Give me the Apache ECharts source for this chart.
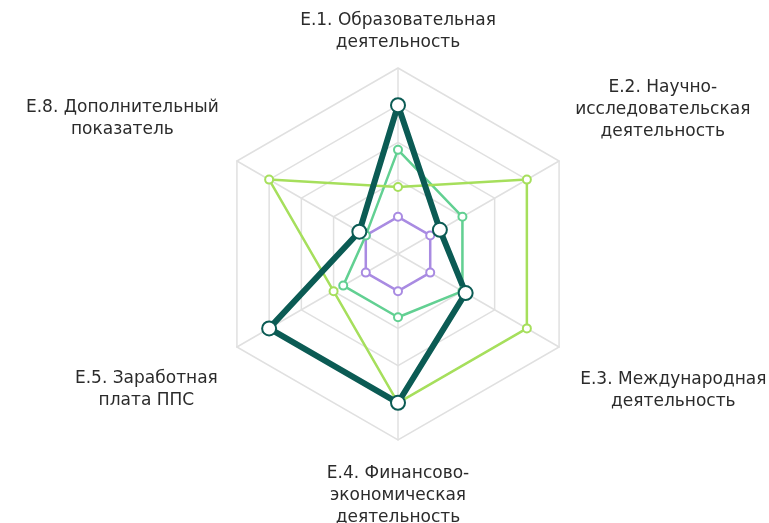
<!DOCTYPE html>
<html>
<head>
<meta charset="utf-8">
<script src="https://cdn.jsdelivr.net/npm/echarts@6/dist/echarts.min.js"></script>
<style>
  html, body { margin: 0; padding: 0; background: #fff; }
  #main { width: 769px; height: 523px; }
</style>
</head>
<body>
<div id="main"></div>
<script>
// radar goes counter-clockwise from the top, so E.2 comes last
const INDICATORS = [
  'Е.1. Образовательная\nдеятельность',
  'Е.8. Дополнительный\nпоказатель',
  'Е.5. Заработная\nплата ППС',
  'Е.4. Финансово-\nэкономическая\nдеятельность',
  'Е.3. Международная\nдеятельность',
  'Е.2. Научно-\nисследовательская\nдеятельность'
]
const AXIS_MAX = 5

const DARK_VALUES = [4.0, 1.2, 4.0, 4.0, 2.1, 1.3]
const LIGHT_VALUES = [1.8, 4.0, 2.0, 4.0, 4.0, 4.0]
const MEDIUM_VALUES = [2.8, 1.0, 1.7, 1.7, 2.0, 2.0]
const PURPLE_VALUES = [1.0, 1.0, 1.0, 1.0, 1.0, 1.0]

const chart = echarts.init(document.querySelector('#main'))

const FONT = 'DejaVu Sans'
const GRID_COLOR = '#e0e0e0'
const TEXT_COLOR = '#2b2b2b'

// spacer lines push the side labels above / below their vertex,
// pad nudges the text block sideways
const LABEL_LAYOUT = [
  {},
  { after: 70, pad: [0, 6, 0, 0] },
  { before: 72, pad: [0, 7, 0, 0] },
  { before: 9 },
  { before: 74, pad: [0, 0, 0, 9] },
  { after: 88, pad: [0, 0, 0, 4] }
]

let rich = {}
LABEL_LAYOUT.forEach((l, i) => {
  rich['c' + i] = {
    align: 'center',
    fontFamily: FONT,
    fontSize: 17,
    lineHeight: 22,
    color: TEXT_COLOR,
    padding: l.pad || 0
  }
  if (l.before) rich['b' + i] = { lineHeight: l.before, fontSize: 1 }
  if (l.after) rich['a' + i] = { lineHeight: l.after, fontSize: 1 }
})

function formatName (name) {
  let idx = INDICATORS.indexOf(name)
  let l = LABEL_LAYOUT[idx] || {}
  let lines = name.split('\n').map(s => '{c' + idx + '|' + s + '}')
  if (l.before) lines.unshift('{b' + idx + '| }')
  if (l.after) lines.push('{a' + idx + '| }')
  return lines.join('\n')
}

function lineSeries (name, values, color, width, size, border) {
  return {
    type: 'radar',
    name: name,
    symbol: 'emptyCircle',
    symbolSize: size,
    lineStyle: { color: color, width: width },
    itemStyle: { color: color, borderColor: color, borderWidth: border },
    data: [{ value: values, name: name }],
    animation: false
  }
}

let option = {
  animation: false,
  radar: {
    center: [398, 254],
    radius: 186,
    startAngle: 90,
    splitNumber: 5,
    shape: 'polygon',
    nameGap: 14,
    indicator: INDICATORS.map(n => ({ name: n, min: 0, max: AXIS_MAX })),
    axisName: {
      formatter: formatName,
      rich: rich
    },
    splitLine: { lineStyle: { color: GRID_COLOR, width: 1.5 } },
    splitArea: { show: false },
    axisLine: { lineStyle: { color: GRID_COLOR, width: 1.5 } },
    axisTick: { show: false },
    axisLabel: { show: false }
  },
  series: [
    lineSeries('purple', PURPLE_VALUES, '#a98be2', 2.5, 8, 2.5),
    lineSeries('medium', MEDIUM_VALUES, '#62d092', 2.5, 8, 2.5),
    lineSeries('light', LIGHT_VALUES, '#a6df5c', 2.5, 8, 2.5),
    lineSeries('dark', DARK_VALUES, '#0b5b54', 6, 14, 4)
  ]
}

chart.setOption(option)
</script>
</body>
</html>
